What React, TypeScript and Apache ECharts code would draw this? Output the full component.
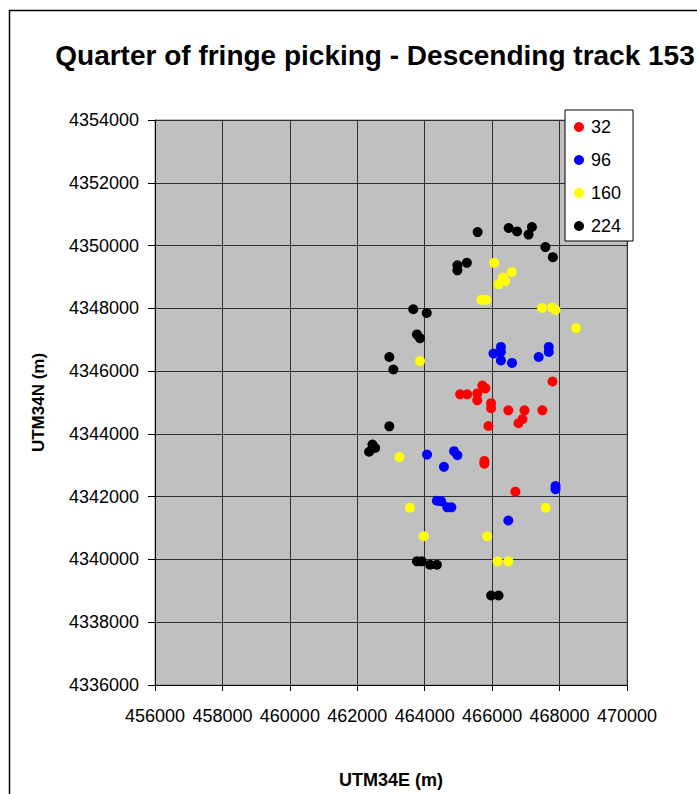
import React, { useEffect, useRef } from "react";
import * as echarts from "echarts";

const seriesNames = ["32", "96", "160", "224"];
const seriesColors = ["#ff0000", "#0000ff", "#ffff00", "#000000"];

const redX = [465050, 465260, 465710, 465800, 465560, 465560, 465970, 465970, 466480, 466960, 467490, 467790, 466780, 466900, 465890, 465770, 465770, 466690];
const redY = [4345260, 4345260, 4345540, 4345450, 4345290, 4345070, 4344980, 4344820, 4344750, 4344750, 4344750, 4345670, 4344340, 4344470, 4344250, 4343140, 4343050, 4342160];

const blueX = [466260, 466040, 466260, 466590, 467380, 467680, 467680, 466260, 464070, 464870, 464970, 464570, 464360, 464490, 464670, 464790, 467880, 467880, 466480];
const blueY = [4346770, 4346560, 4346340, 4346260, 4346450, 4346770, 4346610, 4346620, 4343340, 4343450, 4343320, 4342950, 4341870, 4341850, 4341660, 4341660, 4342340, 4342240, 4341240];

const yellowX = [465680, 465830, 466060, 466580, 466320, 466390, 466190, 467480, 467780, 467880, 468490, 463860, 463250, 463560, 463970, 465850, 467590, 466160, 466480];
const yellowY = [4348270, 4348270, 4349450, 4349160, 4348980, 4348870, 4348770, 4348010, 4348030, 4347950, 4347370, 4346320, 4343260, 4341650, 4340740, 4340740, 4341650, 4339940, 4339940];

const blackX = [465570, 466490, 466740, 467080, 467180, 467580, 467800, 465250, 464970, 464970, 463660, 464060, 463770, 463860, 462950, 463070, 462950, 462450, 462530, 462350, 463770, 463910, 464160, 464360, 465970, 466190];
const blackY = [4350430, 4350560, 4350450, 4350350, 4350590, 4349950, 4349630, 4349450, 4349370, 4349210, 4347970, 4347850, 4347170, 4347050, 4346450, 4346050, 4344240, 4343660, 4343550, 4343430, 4339940, 4339940, 4339830, 4339830, 4338850, 4338850];

const xsAll = [redX, blueX, yellowX, blackX];
const ysAll = [redY, blueY, yellowY, blackY];

const xMin = 456000, xMax = 470000, xStep = 2000;
const yMin = 4336000, yMax = 4354000, yStep = 2000;

const FONT = "'Liberation Sans', Arial, sans-serif";

export default function App() {
  const ref = useRef<HTMLDivElement>(null);
  useEffect(() => {
    if (!ref.current) return;
    const chart = echarts.init(ref.current, null, { renderer: "svg" });
    const series = seriesNames.map((name, i) => ({
      name,
      type: "scatter",
      symbol: "circle",
      symbolSize: 10,
      itemStyle: { color: seriesColors[i], opacity: 1 },
      data: xsAll[i].map((x, j) => [x, ysAll[i][j]]),
    }));
    chart.setOption({
      animation: false,
      backgroundColor: "#ffffff",
      title: {
        text: "Quarter of fringe picking - Descending track 153",
        left: 370,
        top: 36,
        textAlign: "center",
        textStyle: { fontFamily: FONT, fontSize: 28, fontWeight: "bold", color: "#000" },
      },
      graphic: [
        {
          type: "rect",
          shape: { x: 9.5, y: 10.5, width: 720, height: 820 },
          style: { fill: "none", stroke: "#000", lineWidth: 1.5 },
          silent: true,
        },
      ],
      legend: {
        orient: "vertical",
        left: 565,
        top: 110,
        data: seriesNames,
        icon: "circle",
        itemWidth: 10,
        itemHeight: 10,
        itemGap: 13,
        padding: [7, 12, 5, 9],
        backgroundColor: "#ffffff",
        borderColor: "#000",
        borderWidth: 1,
        textStyle: { fontFamily: FONT, fontSize: 18, color: "#000", padding: [0, 0, 0, 2], lineHeight: 20 },
      },
      grid: {
        left: 155,
        top: 120,
        right: 70,
        bottom: 105,
        show: true,
        backgroundColor: "#c0c0c0",
        borderColor: "#808080",
        borderWidth: 1,
      },
      xAxis: {
        type: "value",
        min: xMin,
        max: xMax,
        interval: xStep,
        name: "UTM34E (m)",
        nameLocation: "middle",
        nameGap: 86,
        nameTextStyle: { fontFamily: FONT, fontSize: 18, fontWeight: "bold", color: "#000" },
        axisLine: { show: true, lineStyle: { color: "#000", width: 1 } },
        axisTick: { show: true, length: 6, lineStyle: { color: "#000" } },
        axisLabel: {
          fontFamily: FONT,
          fontSize: 18,
          color: "#000",
          margin: 22,
          formatter: (v: number) => String(v),
        },
        splitLine: { show: true, lineStyle: { color: "#303030", width: 1 } },
      },
      yAxis: {
        type: "value",
        min: yMin,
        max: yMax,
        interval: yStep,
        name: "UTM34N (m)",
        nameLocation: "middle",
        nameGap: 108,
        nameTextStyle: { fontFamily: FONT, fontSize: 17, fontWeight: "bold", color: "#000" },
        axisLine: { show: true, lineStyle: { color: "#000", width: 1 } },
        axisTick: { show: true, length: 7, lineStyle: { color: "#000" } },
        axisLabel: {
          fontFamily: FONT,
          fontSize: 18,
          color: "#000",
          margin: 16,
          formatter: (v: number) => String(v),
        },
        splitLine: { show: true, lineStyle: { color: "#303030", width: 1 } },
      },
      series,
    });
    return () => chart.dispose();
  }, []);
  return (
    <div
      ref={ref}
      style={{ position: "fixed", left: 0, top: 0, width: 697, height: 794, background: "#fff" }}
    />
  );
}
